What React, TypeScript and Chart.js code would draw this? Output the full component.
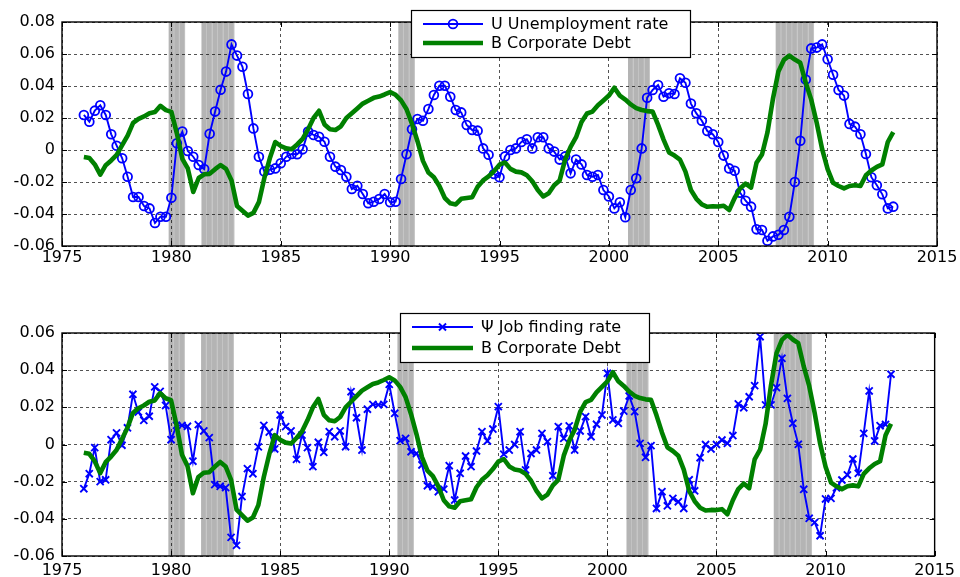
import React, { useEffect, useRef } from "react";
import { Chart, registerables } from "chart.js";

Chart.register(...registerables);

// ---------------- data ----------------
const FIRST_QUARTER = 1976;

// U Unemployment rate (quarterly, 1976Q1 .. 2013Q1)
const unemploymentRate = [
  0.0219, 0.0177, 0.0246, 0.028, 0.0219, 0.0098, 0.0027, -0.0052, -0.0167, -0.0294,
  -0.0294, -0.035, -0.0365, -0.0456, -0.0417, -0.0417, -0.0298, 0.0042, 0.0115, -0.0006,
  -0.0042, -0.0094, -0.0119, 0.0102, 0.024, 0.0377, 0.049, 0.066, 0.059, 0.052,
  0.035, 0.0135, -0.0042, -0.0135, -0.0123, -0.0115, -0.0083, -0.0042, -0.0025, -0.0027,
  0.0004, 0.0115, 0.0094, 0.0083, 0.0052, -0.0042, -0.0104, -0.0125, -0.0167, -0.0244,
  -0.0223, -0.0275, -0.0333, -0.0323, -0.0306, -0.0275, -0.0327, -0.0323, -0.0181, -0.0027,
  0.0129, 0.0194, 0.0183, 0.0256, 0.0344, 0.0402, 0.0402, 0.0333, 0.025, 0.0235,
  0.0156, 0.0125, 0.0121, 0.001, -0.003, -0.015, -0.017, -0.004, 0.0, 0.001,
  0.005, 0.0067, 0.001, 0.008, 0.008, 0.001, -0.001, -0.006, -0.004, -0.0146,
  -0.006, -0.009, -0.0156, -0.0167, -0.0156, -0.025, -0.029, -0.0365, -0.0327, -0.042,
  -0.025, -0.0177, 0.001, 0.0327, 0.0375, 0.0406, 0.0333, 0.0354, 0.035, 0.0448,
  0.042, 0.029, 0.0229, 0.0183, 0.0119, 0.0098, 0.005, -0.0035, -0.0115, -0.013,
  -0.0267, -0.0317, -0.0354, -0.0496, -0.05, -0.0567, -0.054, -0.053, -0.05, -0.0417,
  -0.02, 0.0058, 0.044, 0.0635, 0.064, 0.066, 0.0567, 0.047, 0.0375, 0.034,
  0.0163, 0.0146, 0.0098, -0.0025, -0.017, -0.022, -0.0277, -0.0365, -0.0354,
];

// Psi Job finding rate (quarterly, 1976Q1 .. 2013Q1)
const jobFindingRate = [
  -0.0238, -0.0157, -0.0017, -0.02, -0.019, 0.0026, 0.0062, -0.0004, 0.009, 0.027,
  0.0175, 0.013, 0.0152, 0.031, 0.0286, 0.021, 0.0026, 0.0103, 0.0103, 0.0098,
  -0.009, 0.0107, 0.0073, 0.0037, -0.0216, -0.0225, -0.0232, -0.05, -0.0543, -0.028,
  -0.013, -0.0157, -0.0013, 0.0103, 0.0067, -0.0024, 0.0159, 0.0096, 0.0073, -0.008,
  0.0051, -0.0017, -0.0119, 0.0012, -0.0042, 0.0069, 0.0042, 0.0073, -0.0012, 0.0284,
  0.0144, -0.003, 0.019, 0.0216, 0.0213, 0.0216, 0.0324, 0.0168, 0.0021, 0.0033,
  -0.0039, -0.0048, -0.011, -0.0222, -0.0227, -0.0254, -0.024, -0.0114, -0.0299, -0.0155,
  -0.0062, -0.0119, -0.0035, 0.0069, 0.0019, 0.0083, 0.0204, -0.0052, -0.003, 0.0,
  0.0069, -0.0137, -0.0048, -0.003, 0.006, 0.0015, -0.0168, 0.0096, 0.0033, 0.01,
  -0.003, 0.0073, 0.015, 0.0042, 0.0109, 0.0159, 0.0383, 0.0132, 0.0114, 0.018,
  0.0261, 0.0177, 0.0006, -0.0069, -0.0006, -0.0344, -0.0254, -0.033, -0.029, -0.0308,
  -0.0344, -0.019, -0.0249, -0.0071, 0.0, -0.0024, 0.0, 0.0024, 0.0006, 0.0048,
  0.0218, 0.0198, 0.0257, 0.0317, 0.058, 0.0213, 0.0213, 0.0306, 0.0464, 0.0248,
  0.0114, 0.0001, -0.0241, -0.0397, -0.0419, -0.0491, -0.0293, -0.029, -0.0233, -0.0191,
  -0.0164, -0.0078, -0.0155, 0.006, 0.0288, 0.0019, 0.0101, 0.0108, 0.0378,
];

// B Corporate Debt (quarterly, 1976Q1 .. 2013Q1)
const corporateDebt = [
  -0.0044, -0.005, -0.009, -0.0154, -0.0095, -0.0065, -0.003, 0.003, 0.009, 0.017,
  0.0195, 0.021, 0.023, 0.0237, 0.0276, 0.0249, 0.0238, 0.0104, -0.0055, -0.0115,
  -0.0262, -0.0175, -0.0152, -0.0149, -0.012, -0.0094, -0.0118, -0.019, -0.035, -0.038,
  -0.041, -0.0393, -0.0326, -0.0175, -0.0052, 0.005, 0.0025, 0.001, 0.0005, 0.0035,
  0.007, 0.013, 0.02, 0.0245, 0.016, 0.013, 0.0125, 0.0148, 0.02, 0.023,
  0.026, 0.029, 0.0308, 0.0326, 0.0334, 0.0347, 0.0362, 0.0345, 0.031, 0.0255,
  0.0163, 0.0055, -0.0068, -0.014, -0.017, -0.0225, -0.03, -0.0333, -0.034, -0.0305,
  -0.03, -0.0295, -0.023, -0.019, -0.0165, -0.0132, -0.0092, -0.0078, -0.0118, -0.0135,
  -0.014, -0.0158, -0.0195, -0.025, -0.029, -0.027, -0.022, -0.019, -0.006, 0.002,
  0.008, 0.0175, 0.0228, 0.024, 0.028, 0.031, 0.034, 0.0389, 0.034, 0.0315,
  0.0285, 0.0262, 0.025, 0.0243, 0.024, 0.0157, 0.0065, -0.0015, -0.0035, -0.006,
  -0.0135, -0.025, -0.0305, -0.034, -0.0355, -0.0352, -0.0353, -0.0348, -0.0375, -0.03,
  -0.024, -0.021, -0.0235, -0.008, -0.0028, 0.011, 0.032, 0.049, 0.0563, 0.059,
  0.0565, 0.0545, 0.042, 0.0315, 0.017, 0.0005, -0.012, -0.0205, -0.0225, -0.024,
  -0.0225, -0.022, -0.0225, -0.0158, -0.0128, -0.0105, -0.009, 0.005, 0.0112,
];

// NBER recession quarters (shaded)
const recessionQuarters = [
  1980, 1980.25, 1980.5,
  1981.5, 1981.75, 1982, 1982.25, 1982.5, 1982.75,
  1990.5, 1990.75, 1991,
  2001, 2001.25, 2001.5, 2001.75,
  2007.75, 2008, 2008.25, 2008.5, 2008.75, 2009, 2009.25,
];

const yearTicks = [1975, 1980, 1985, 1990, 1995, 2000, 2005, 2010, 2015];
const topValueTicks = [-0.06, -0.04, -0.02, 0, 0.02, 0.04, 0.06, 0.08];
const bottomValueTicks = [-0.06, -0.04, -0.02, 0, 0.02, 0.04, 0.06];

const quarterDates = corporateDebt.map((_, i) => FIRST_QUARTER + i / 4);

// ---------------- styling ----------------
const FONT = "DejaVu Sans";
const BLUE = "#0000ff";
const GREEN = "#008000";
const PLOT_LEFT = 62;
const PLOT_RIGHT = 937;
const WIDTH = 960;

const toPoints = (values: number[]) => values.map((y, i) => ({ x: quarterDates[i], y }));

const shadingPlugin = {
  id: "recessionShading",
  beforeDraw(chart: any) {
    const { ctx, chartArea, scales } = chart;
    ctx.save();
    ctx.fillStyle = "#ffffff";
    ctx.fillRect(0, 0, chart.width, chart.height);
    const xs = scales.x;
    const h = chartArea.bottom - chartArea.top;
    for (const q of recessionQuarters) {
      const x0 = xs.getPixelForValue(q - 0.125);
      const x1 = xs.getPixelForValue(q + 0.125);
      ctx.fillStyle = "#b4b4b4";
      ctx.fillRect(x0, chartArea.top, x1 - x0, h);
    }
    ctx.strokeStyle = "#c9c9c9";
    ctx.lineWidth = 0.7;
    for (const q of recessionQuarters) {
      const x1 = xs.getPixelForValue(q + 0.125) - 0.4;
      ctx.beginPath();
      ctx.moveTo(x1, chartArea.top);
      ctx.lineTo(x1, chartArea.bottom);
      ctx.stroke();
    }
    ctx.restore();
  },
};

const framePlugin = {
  id: "matlabFrame",
  afterDatasetsDraw(chart: any) {
    const { ctx, chartArea, scales } = chart;
    const { left, right, top, bottom } = chartArea;
    ctx.save();
    ctx.strokeStyle = "#000";
    ctx.lineWidth = 1;
    const tl = 5;
    ctx.beginPath();
    for (const t of scales.x.ticks) {
      const x = Math.round(scales.x.getPixelForValue(t.value)) + 0.5;
      ctx.moveTo(x, bottom);
      ctx.lineTo(x, bottom - tl);
      ctx.moveTo(x, top);
      ctx.lineTo(x, top + tl);
    }
    for (const t of scales.y.ticks) {
      const y = Math.round(scales.y.getPixelForValue(t.value)) + 0.5;
      ctx.moveTo(left, y);
      ctx.lineTo(left + tl, y);
      ctx.moveTo(right, y);
      ctx.lineTo(right - tl, y);
    }
    ctx.stroke();
    ctx.lineWidth = 1.4;
    ctx.strokeRect(left, top, right - left, bottom - top);
    ctx.restore();
  },
};

const legendPlugin = {
  id: "matlabLegend",
  afterDraw(chart: any, _args: any, opts: any) {
    if (!opts || !opts.box) return;
    const { ctx } = chart;
    const { box, rows, lineX, textX } = opts;
    ctx.save();
    ctx.fillStyle = "#fff";
    ctx.fillRect(box.x, box.y, box.w, box.h);
    ctx.strokeStyle = "#000";
    ctx.lineWidth = 1.2;
    ctx.strokeRect(box.x + 0.5, box.y + 0.5, box.w, box.h);
    chart.data.datasets.forEach((ds: any, i: number) => {
      const y = rows[i];
      ctx.strokeStyle = ds.borderColor;
      ctx.lineWidth = ds.borderWidth;
      ctx.lineCap = "butt";
      ctx.beginPath();
      ctx.moveTo(lineX[0], y);
      ctx.lineTo(lineX[1], y);
      ctx.stroke();
      if (ds.pointRadius > 0) {
        const cx = (lineX[0] + lineX[1]) / 2;
        const r = ds.pointRadius;
        ctx.lineWidth = ds.pointBorderWidth;
        ctx.beginPath();
        if (ds.pointStyle === "circle") {
          ctx.arc(cx, y, r, 0, Math.PI * 2);
        } else {
          const o = Math.cos(Math.PI / 4) * r;
          ctx.moveTo(cx - o, y - o);
          ctx.lineTo(cx + o, y + o);
          ctx.moveTo(cx - o, y + o);
          ctx.lineTo(cx + o, y - o);
        }
        ctx.stroke();
      }
      ctx.fillStyle = "#000";
      ctx.font = `16px "${FONT}"`;
      ctx.textBaseline = "middle";
      ctx.textAlign = "left";
      ctx.fillText(ds.label, textX, y + 1);
    });
    ctx.restore();
  },
};

type PanelProps = {
  top: number;
  height: number;
  areaTop: number;
  areaBottom: number;
  labelPad: number;
  series: number[];
  seriesLabel: string;
  marker: "circle" | "crossRot";
  yMin: number;
  yMax: number;
  yTicks: number[];
  legend: any;
};

function Panel(p: PanelProps) {
  const ref = useRef<HTMLCanvasElement | null>(null);
  useEffect(() => {
    if (!ref.current) return;
    const isCircle = p.marker === "circle";
    const chart = new Chart(ref.current, {
      type: "line",
      data: {
        datasets: [
          {
            label: p.seriesLabel,
            data: toPoints(p.series),
            borderColor: BLUE,
            borderWidth: 1.9,
            pointStyle: p.marker,
            pointRadius: isCircle ? 4.4 : 5,
            pointBorderWidth: isCircle ? 1.8 : 1.9,
            pointBorderColor: BLUE,
            pointBackgroundColor: "rgba(0,0,0,0)",
            pointHoverRadius: 0,
            tension: 0,
            order: 1,
          } as any,
          {
            label: "B Corporate Debt",
            data: toPoints(corporateDebt),
            borderColor: GREEN,
            borderWidth: 4.6,
            borderJoinStyle: "round",
            pointRadius: 0,
            pointHoverRadius: 0,
            tension: 0,
            order: 0,
          } as any,
        ],
      },
      options: {
        responsive: false,
        animation: false,
        devicePixelRatio: 1,
        events: [],
        layout: { padding: { left: 0, right: WIDTH - PLOT_RIGHT, top: p.areaTop, bottom: 0 } },
        plugins: {
          legend: { display: false },
          tooltip: { enabled: false },
          matlabLegend: p.legend,
        } as any,
        scales: {
          x: {
            type: "linear",
            min: 1975,
            max: 2015,
            afterBuildTicks: (s: any) => {
              s.ticks = yearTicks.map((v) => ({ value: v }));
            },
            afterFit: (s: any) => {
              s.height = p.height - p.areaBottom;
            },
            ticks: {
              font: { family: FONT, size: 16 },
              color: "#000",
              padding: p.labelPad,
              maxRotation: 0,
              autoSkip: false,
              callback: (v: any) => String(v),
            },
            grid: { color: "rgba(0,0,0,0.85)", lineWidth: 0.8, drawTicks: false },
            border: { display: false, dash: [3, 3] },
          },
          y: {
            type: "linear",
            min: p.yMin,
            max: p.yMax,
            afterBuildTicks: (s: any) => {
              s.ticks = p.yTicks.map((v) => ({ value: v }));
            },
            afterFit: (s: any) => {
              s.width = PLOT_LEFT;
            },
            ticks: {
              font: { family: FONT, size: 16 },
              color: "#000",
              padding: 7,
              autoSkip: false,
              callback: (v: any) => (Math.abs(v) < 1e-9 ? "0" : Number(v).toFixed(2)),
            },
            grid: { color: "rgba(0,0,0,0.85)", lineWidth: 0.8, drawTicks: false },
            border: { display: false, dash: [3, 3] },
          },
        },
      } as any,
      plugins: [shadingPlugin, framePlugin, legendPlugin],
    });
    return () => chart.destroy();
  }, []);
  return (
    <canvas
      ref={ref}
      width={WIDTH}
      height={p.height}
      style={{ position: "absolute", left: 0, top: p.top, width: WIDTH, height: p.height, display: "block" }}
    />
  );
}

export default function App() {
  return (
    <div style={{ position: "absolute", left: 0, top: 0, width: WIDTH, height: 577, background: "#fff" }}>
      <Panel
        top={0}
        height={290}
        areaTop={22}
        areaBottom={246}
        labelPad={2}
        series={unemploymentRate}
        seriesLabel="U Unemployment rate"
        marker="circle"
        yMin={-0.06}
        yMax={0.08}
        yTicks={topValueTicks}
        legend={{ box: { x: 411, y: 10, w: 279, h: 47 }, rows: [24, 43], lineX: [423, 483], textX: 491 }}
      />
      <Panel
        top={290}
        height={287}
        areaTop={43}
        areaBottom={266}
        labelPad={5}
        series={jobFindingRate}
        seriesLabel="Ψ Job finding rate"
        marker="crossRot"
        yMin={-0.06}
        yMax={0.06}
        yTicks={bottomValueTicks}
        legend={{ box: { x: 400, y: 23, w: 249, h: 49 }, rows: [37, 58], lineX: [412, 473], textX: 481 }}
      />
    </div>
  );
}
